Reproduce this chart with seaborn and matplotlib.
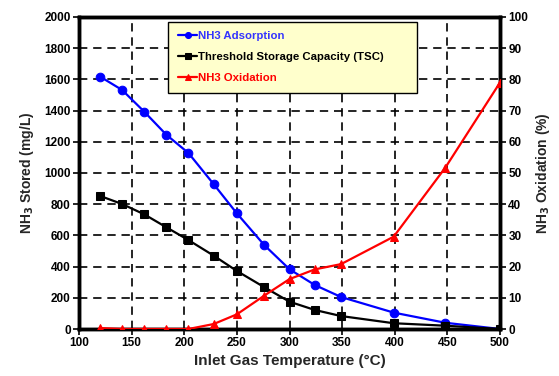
import matplotlib
matplotlib.use("Agg")
import matplotlib.pyplot as plt
import seaborn as sns
import pandas as pd

temps_ads = [120, 141, 162, 183, 204, 228, 250, 276, 300, 324, 349, 399, 448, 500]
nh3_adsorption = [1618, 1532, 1393, 1245, 1128, 928, 741, 538, 383, 282, 205, 105, 40, 0]
temps_tsc = [120, 141, 162, 183, 204, 228, 250, 276, 300, 324, 349, 399, 448, 500]
tsc = [853, 801, 735, 652, 570, 470, 372, 268, 175, 122, 83, 37, 21, 0]
temps_ox = [120, 141, 162, 183, 204, 228, 250, 276, 300, 324, 349, 399, 448, 500]
nh3_oxidation = [0.3, 0, 0, 0, 0, 1.6, 4.7, 10.7, 16, 19.1, 20.8, 29.6, 51.7, 79]

sns.set_style("white")
plt.rcParams['font.family'] = ['Liberation Sans', 'DejaVu Sans']

fig = plt.figure(figsize=(5.59, 3.76), dpi=100)
ax = fig.add_axes([0.1413, 0.125, 0.7532, 0.8298])
ax2 = ax.twinx()

df_a = pd.DataFrame({"T": temps_ads, "v": nh3_adsorption})
df_t = pd.DataFrame({"T": temps_tsc, "v": tsc})
df_o = pd.DataFrame({"T": temps_ox, "v": nh3_oxidation})

sns.lineplot(data=df_a, x="T", y="v", ax=ax, color="#0000FF", marker="o", markersize=6.2,
             markeredgecolor="#0000FF", lw=1.6, label="NH3 Adsorption", legend=False, zorder=5)
sns.lineplot(data=df_t, x="T", y="v", ax=ax, color="black", marker="s", markersize=6.2,
             markeredgecolor="black", lw=1.6, label="Threshold Storage Capacity (TSC)", legend=False, zorder=5)
sns.lineplot(data=df_o, x="T", y="v", ax=ax2, color="#FF0000", marker="^", markersize=6.2,
             markeredgecolor="#FF0000", lw=1.6, label="NH3 Oxidation", legend=False, zorder=5)

ax.set_xlim(100, 500)
ax.set_ylim(0, 2000)
ax2.set_ylim(0, 100)
ax.set_xticks(range(100, 501, 50))
ax.set_yticks(range(0, 2001, 200))
ax2.set_yticks(range(0, 101, 10))

ax.grid(True, color="black", linestyle=(0, (5, 3.5)), lw=1.2)
ax.set_axisbelow(True)

for a in (ax, ax2):
    for s in a.spines.values():
        s.set_linewidth(2.5)
        s.set_color("black")
    a.tick_params(direction="out", length=4, width=1.2, labelsize=8.5, colors="black", pad=2)
    for lbl in a.get_xticklabels() + a.get_yticklabels():
        lbl.set_fontweight("bold")
ax.tick_params(axis="y", left=True, right=False)
ax.tick_params(axis="x", bottom=True)
ax2.tick_params(axis="y", right=True)

ax.set_xlabel("Inlet Gas Temperature (\u00b0C)", fontsize=11, fontweight="bold", labelpad=3)
ax.set_ylabel("NH$_\\mathbf{3}$ Stored (mg/L)", fontsize=10, fontweight="bold", labelpad=6)
ax2.set_ylabel("NH$_\\mathbf{3}$ Oxidation (%)", fontsize=10, fontweight="bold", labelpad=4)

h1, l1 = ax.get_legend_handles_labels()
h2, l2 = ax2.get_legend_handles_labels()
leg = ax2.legend(h1 + h2, l1 + l2, loc="upper left",
                 bbox_to_anchor=(0.212, 0.76, 0.591, 0.225), mode="expand",
                 fontsize=8.2, frameon=True, fancybox=False, shadow=False,
                 facecolor="#FFFFCC", edgecolor="black", framealpha=1,
                 handlelength=1.7, handletextpad=0.05, labelspacing=0.95,
                 borderpad=0.85, borderaxespad=0,
                 labelcolor=["#3333FF", "black", "#FF0000"], markerscale=0.7)
leg.get_frame().set_linewidth(1.0)
for t in leg.get_texts():
    t.set_fontweight("bold")

fig.savefig("out.png", dpi=100, facecolor="white")
